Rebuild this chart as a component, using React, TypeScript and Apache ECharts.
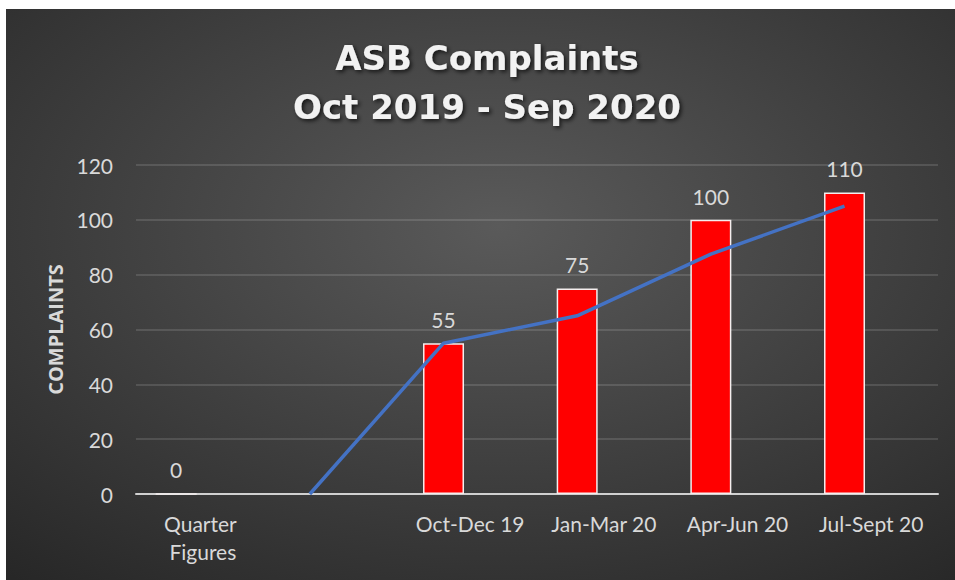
import React, { useEffect, useRef } from "react";
import * as echarts from "echarts";

const categories = ["Quarter Figures", "", "Oct-Dec 19", "Jan-Mar 20", "Apr-Jun 20", "Jul-Sept 20"];
const complaints: (number | null)[] = [0, null, 55, 75, 100, 110];
const trendValues: (number | null)[] = [null, 0, 55, 65, 87.5, 105];
const yTicks = { min: 0, max: 120, interval: 20 };

const W = 949;
const H = 571;
const GRID_LEFT = 130;
const GRID_RIGHT = 17;
const BAR_WIDTH = 41;
const BAR_GAP = 0.3;

export default function App() {
  const ref = useRef<HTMLDivElement>(null);
  useEffect(() => {
    document.body.style.margin = "0";
    if (!ref.current) return;
    const chart = echarts.init(ref.current, undefined, { renderer: "svg" });
    const catW = (W - GRID_LEFT - GRID_RIGHT) / categories.length;
    const offset = -(BAR_WIDTH * (1 + BAR_GAP)) / 2 / catW;
    const trendData = trendValues
      .map((v, i) => (v === null ? null : [i + offset, v]))
      .filter((d) => d !== null);
    const labelColor = "#d9d9d9";
    chart.setOption({
      animation: false,
      backgroundColor: {
        type: "radial",
        x: 0.52,
        y: 0.38,
        r: 0.85,
        colorStops: [
          { offset: 0, color: "#5a5a5a" },
          { offset: 1, color: "#242424" },
        ],
      },
      title: {
        text: "ASB Complaints\nOct 2019 - Sep 2020",
        left: 481,
        top: 24,
        textAlign: "center",
        padding: 0,
        textStyle: {
          color: "#f2f2f2",
          fontFamily: "DejaVu Sans",
          fontWeight: "bold",
          fontSize: 34,
          lineHeight: 49,
          textShadowColor: "rgba(0,0,0,0.7)",
          textShadowBlur: 4,
          textShadowOffsetX: 2,
          textShadowOffsetY: 2,
        },
      },
      grid: { left: GRID_LEFT, right: GRID_RIGHT, top: 156, bottom: 86, containLabel: false },
      xAxis: [
        {
          type: "category",
          data: categories,
          axisTick: { show: false },
          axisLine: { lineStyle: { color: "#d0d0d0", width: 2 } },
          axisLabel: {
            color: labelColor,
            fontFamily: "Lato",
            fontSize: 21,
            lineHeight: 28,
            margin: 15,
            width: 120,
            overflow: "break",
            interval: 0,
          },
        },
        { type: "value", min: -0.5, max: 5.5, show: false },
      ],
      yAxis: {
        type: "value",
        min: yTicks.min,
        max: yTicks.max,
        interval: yTicks.interval,
        name: "COMPLAINTS",
        nameLocation: "middle",
        nameRotate: 90,
        nameGap: 60,
        nameTextStyle: {
          color: labelColor,
          fontFamily: "Open Sans",
          fontWeight: "bold",
          fontSize: 20,
        },
        axisLine: { show: false },
        axisTick: { show: false },
        axisLabel: { color: labelColor, fontFamily: "Lato", fontSize: 21, margin: 23 },
        splitLine: { lineStyle: { color: "rgba(255,255,255,0.17)", width: 1.5 } },
      },
      series: [
        {
          type: "bar",
          name: "Complaints",
          data: complaints,
          barWidth: BAR_WIDTH,
          barGap: "30%",
          itemStyle: { color: "#ff0000", borderColor: "#f4eeee", borderWidth: 1.5 },
          label: {
            show: true,
            position: "top",
            distance: 13,
            color: labelColor,
            fontFamily: "Lato",
            fontSize: 21,
          },
        },
        {
          type: "bar",
          name: "blank",
          data: categories.map(() => null),
          barWidth: BAR_WIDTH,
        },
        {
          type: "line",
          name: "Trend",
          xAxisIndex: 1,
          data: trendData,
          symbol: "none",
          lineStyle: { color: "#4472c4", width: 3.5 },
          z: 5,
        },
      ],
    });
    return () => chart.dispose();
  }, []);
  return (
    <div
      ref={ref}
      style={{ position: "absolute", left: 6, top: 9, width: W, height: H }}
    />
  );
}
